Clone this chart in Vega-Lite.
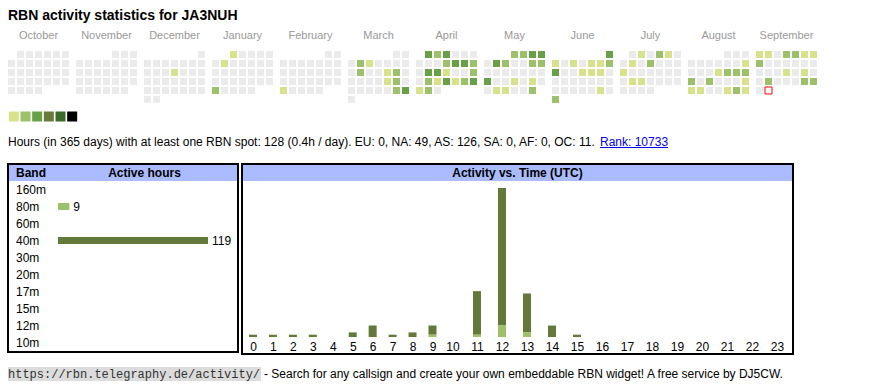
{
  "$schema": "https://vega.github.io/schema/vega-lite/v6.json",
  "background": "white",
  "padding": {"left": 7, "top": 9, "right": 0, "bottom": 0},
  "config": {"font": "Liberation Sans", "view": {"stroke": null}},
  "spacing": 0,
  "resolve": {"scale": {"color": "independent", "x": "independent", "y": "independent"}},
  "vconcat": [
    {
      "title": {"text": "RBN activity statistics for JA3NUH", "anchor": "start", "fontSize": 14, "fontWeight": "bold", "color": "#000000", "offset": 7, "font": "Liberation Sans"},
      "data": {"values": [
{"m":"October","w":0,"d":1,"v":0},{"m":"October","w":0,"d":2,"v":0},{"m":"October","w":0,"d":3,"v":0},{"m":"October","w":0,"d":4,"v":0},{"m":"October","w":0,"d":5,"v":0},{"m":"October","w":0,"d":6,"v":0},
{"m":"October","w":1,"d":0,"v":0},{"m":"October","w":1,"d":1,"v":0},{"m":"October","w":1,"d":2,"v":0},{"m":"October","w":1,"d":3,"v":0},{"m":"October","w":1,"d":4,"v":0},{"m":"October","w":1,"d":5,"v":0},{"m":"October","w":1,"d":6,"v":0},
{"m":"October","w":2,"d":0,"v":0},{"m":"October","w":2,"d":1,"v":0},{"m":"October","w":2,"d":2,"v":0},{"m":"October","w":2,"d":3,"v":0},{"m":"October","w":2,"d":4,"v":0},{"m":"October","w":2,"d":5,"v":0},{"m":"October","w":2,"d":6,"v":0},
{"m":"October","w":3,"d":0,"v":0},{"m":"October","w":3,"d":1,"v":0},{"m":"October","w":3,"d":2,"v":0},{"m":"October","w":3,"d":3,"v":0},{"m":"October","w":3,"d":4,"v":0},{"m":"October","w":3,"d":5,"v":0},{"m":"October","w":3,"d":6,"v":0},
{"m":"October","w":4,"d":0,"v":0},{"m":"October","w":4,"d":1,"v":0},{"m":"October","w":4,"d":2,"v":0},{"m":"October","w":4,"d":3,"v":0},
{"m":"November","w":0,"d":4,"v":0},{"m":"November","w":0,"d":5,"v":0},{"m":"November","w":0,"d":6,"v":0},
{"m":"November","w":1,"d":0,"v":0},{"m":"November","w":1,"d":1,"v":0},{"m":"November","w":1,"d":2,"v":0},{"m":"November","w":1,"d":3,"v":0},{"m":"November","w":1,"d":4,"v":0},{"m":"November","w":1,"d":5,"v":0},{"m":"November","w":1,"d":6,"v":0},
{"m":"November","w":2,"d":0,"v":0},{"m":"November","w":2,"d":1,"v":0},{"m":"November","w":2,"d":2,"v":0},{"m":"November","w":2,"d":3,"v":0},{"m":"November","w":2,"d":4,"v":0},{"m":"November","w":2,"d":5,"v":0},{"m":"November","w":2,"d":6,"v":0},
{"m":"November","w":3,"d":0,"v":0},{"m":"November","w":3,"d":1,"v":0},{"m":"November","w":3,"d":2,"v":0},{"m":"November","w":3,"d":3,"v":0},{"m":"November","w":3,"d":4,"v":0},{"m":"November","w":3,"d":5,"v":0},{"m":"November","w":3,"d":6,"v":0},
{"m":"November","w":4,"d":0,"v":0},{"m":"November","w":4,"d":1,"v":0},{"m":"November","w":4,"d":2,"v":0},{"m":"November","w":4,"d":3,"v":0},{"m":"November","w":4,"d":4,"v":0},{"m":"November","w":4,"d":5,"v":0},
{"m":"December","w":0,"d":6,"v":0},
{"m":"December","w":1,"d":0,"v":0},{"m":"December","w":1,"d":1,"v":0},{"m":"December","w":1,"d":2,"v":0},{"m":"December","w":1,"d":3,"v":0},{"m":"December","w":1,"d":4,"v":0},{"m":"December","w":1,"d":5,"v":0},{"m":"December","w":1,"d":6,"v":0},
{"m":"December","w":2,"d":0,"v":0},{"m":"December","w":2,"d":1,"v":0},{"m":"December","w":2,"d":2,"v":0},{"m":"December","w":2,"d":3,"v":1},{"m":"December","w":2,"d":4,"v":0},{"m":"December","w":2,"d":5,"v":0},{"m":"December","w":2,"d":6,"v":0},
{"m":"December","w":3,"d":0,"v":0},{"m":"December","w":3,"d":1,"v":0},{"m":"December","w":3,"d":2,"v":0},{"m":"December","w":3,"d":3,"v":0},{"m":"December","w":3,"d":4,"v":0},{"m":"December","w":3,"d":5,"v":0},{"m":"December","w":3,"d":6,"v":0},
{"m":"December","w":4,"d":0,"v":0},{"m":"December","w":4,"d":1,"v":0},{"m":"December","w":4,"d":2,"v":0},{"m":"December","w":4,"d":3,"v":0},{"m":"December","w":4,"d":4,"v":0},{"m":"December","w":4,"d":5,"v":0},{"m":"December","w":4,"d":6,"v":0},
{"m":"December","w":5,"d":0,"v":0},{"m":"December","w":5,"d":1,"v":0},
{"m":"January","w":0,"d":2,"v":1},{"m":"January","w":0,"d":3,"v":0},{"m":"January","w":0,"d":4,"v":0},{"m":"January","w":0,"d":5,"v":0},{"m":"January","w":0,"d":6,"v":0},
{"m":"January","w":1,"d":0,"v":0},{"m":"January","w":1,"d":1,"v":1},{"m":"January","w":1,"d":2,"v":0},{"m":"January","w":1,"d":3,"v":0},{"m":"January","w":1,"d":4,"v":0},{"m":"January","w":1,"d":5,"v":0},{"m":"January","w":1,"d":6,"v":0},
{"m":"January","w":2,"d":0,"v":0},{"m":"January","w":2,"d":1,"v":0},{"m":"January","w":2,"d":2,"v":0},{"m":"January","w":2,"d":3,"v":0},{"m":"January","w":2,"d":4,"v":0},{"m":"January","w":2,"d":5,"v":0},{"m":"January","w":2,"d":6,"v":0},
{"m":"January","w":3,"d":0,"v":0},{"m":"January","w":3,"d":1,"v":0},{"m":"January","w":3,"d":2,"v":0},{"m":"January","w":3,"d":3,"v":0},{"m":"January","w":3,"d":4,"v":0},{"m":"January","w":3,"d":5,"v":0},{"m":"January","w":3,"d":6,"v":0},
{"m":"January","w":4,"d":0,"v":2},{"m":"January","w":4,"d":1,"v":0},{"m":"January","w":4,"d":2,"v":0},{"m":"January","w":4,"d":3,"v":0},{"m":"January","w":4,"d":4,"v":0},
{"m":"February","w":0,"d":5,"v":0},{"m":"February","w":0,"d":6,"v":0},
{"m":"February","w":1,"d":0,"v":0},{"m":"February","w":1,"d":1,"v":0},{"m":"February","w":1,"d":2,"v":0},{"m":"February","w":1,"d":3,"v":0},{"m":"February","w":1,"d":4,"v":0},{"m":"February","w":1,"d":5,"v":0},{"m":"February","w":1,"d":6,"v":0},
{"m":"February","w":2,"d":0,"v":0},{"m":"February","w":2,"d":1,"v":0},{"m":"February","w":2,"d":2,"v":0},{"m":"February","w":2,"d":3,"v":0},{"m":"February","w":2,"d":4,"v":0},{"m":"February","w":2,"d":5,"v":0},{"m":"February","w":2,"d":6,"v":0},
{"m":"February","w":3,"d":0,"v":0},{"m":"February","w":3,"d":1,"v":0},{"m":"February","w":3,"d":2,"v":0},{"m":"February","w":3,"d":3,"v":0},{"m":"February","w":3,"d":4,"v":0},{"m":"February","w":3,"d":5,"v":0},{"m":"February","w":3,"d":6,"v":0},
{"m":"February","w":4,"d":0,"v":1},{"m":"February","w":4,"d":1,"v":0},{"m":"February","w":4,"d":2,"v":0},{"m":"February","w":4,"d":3,"v":0},{"m":"February","w":4,"d":4,"v":0},
{"m":"March","w":0,"d":5,"v":0},{"m":"March","w":0,"d":6,"v":0},
{"m":"March","w":1,"d":0,"v":0},{"m":"March","w":1,"d":1,"v":2},{"m":"March","w":1,"d":2,"v":1},{"m":"March","w":1,"d":3,"v":0},{"m":"March","w":1,"d":4,"v":0},{"m":"March","w":1,"d":5,"v":0},{"m":"March","w":1,"d":6,"v":0},
{"m":"March","w":2,"d":0,"v":0},{"m":"March","w":2,"d":1,"v":2},{"m":"March","w":2,"d":2,"v":0},{"m":"March","w":2,"d":3,"v":0},{"m":"March","w":2,"d":4,"v":1},{"m":"March","w":2,"d":5,"v":2},{"m":"March","w":2,"d":6,"v":0},
{"m":"March","w":3,"d":0,"v":0},{"m":"March","w":3,"d":1,"v":0},{"m":"March","w":3,"d":2,"v":0},{"m":"March","w":3,"d":3,"v":0},{"m":"March","w":3,"d":4,"v":1},{"m":"March","w":3,"d":5,"v":2},{"m":"March","w":3,"d":6,"v":0},
{"m":"March","w":4,"d":0,"v":0},{"m":"March","w":4,"d":1,"v":0},{"m":"March","w":4,"d":2,"v":0},{"m":"March","w":4,"d":3,"v":0},{"m":"March","w":4,"d":4,"v":0},{"m":"March","w":4,"d":5,"v":2},{"m":"March","w":4,"d":6,"v":3},
{"m":"March","w":5,"d":0,"v":0},
{"m":"April","w":0,"d":1,"v":3},{"m":"April","w":0,"d":2,"v":2},{"m":"April","w":0,"d":3,"v":3},{"m":"April","w":0,"d":4,"v":0},{"m":"April","w":0,"d":5,"v":0},{"m":"April","w":0,"d":6,"v":0},
{"m":"April","w":1,"d":0,"v":0},{"m":"April","w":1,"d":1,"v":0},{"m":"April","w":1,"d":2,"v":0},{"m":"April","w":1,"d":3,"v":2},{"m":"April","w":1,"d":4,"v":3},{"m":"April","w":1,"d":5,"v":3},{"m":"April","w":1,"d":6,"v":2},
{"m":"April","w":2,"d":0,"v":0},{"m":"April","w":2,"d":1,"v":3},{"m":"April","w":2,"d":2,"v":3},{"m":"April","w":2,"d":3,"v":1},{"m":"April","w":2,"d":4,"v":0},{"m":"April","w":2,"d":5,"v":0},{"m":"April","w":2,"d":6,"v":2},
{"m":"April","w":3,"d":0,"v":0},{"m":"April","w":3,"d":1,"v":2},{"m":"April","w":3,"d":2,"v":1},{"m":"April","w":3,"d":3,"v":3},{"m":"April","w":3,"d":4,"v":1},{"m":"April","w":3,"d":5,"v":2},{"m":"April","w":3,"d":6,"v":3},
{"m":"April","w":4,"d":0,"v":1},{"m":"April","w":4,"d":1,"v":2},{"m":"April","w":4,"d":2,"v":0},
{"m":"May","w":0,"d":3,"v":2},{"m":"May","w":0,"d":4,"v":2},{"m":"May","w":0,"d":5,"v":3},{"m":"May","w":0,"d":6,"v":3},
{"m":"May","w":1,"d":0,"v":0},{"m":"May","w":1,"d":1,"v":3},{"m":"May","w":1,"d":2,"v":2},{"m":"May","w":1,"d":3,"v":0},{"m":"May","w":1,"d":4,"v":0},{"m":"May","w":1,"d":5,"v":2},{"m":"May","w":1,"d":6,"v":2},
{"m":"May","w":2,"d":0,"v":0},{"m":"May","w":2,"d":1,"v":0},{"m":"May","w":2,"d":2,"v":0},{"m":"May","w":2,"d":3,"v":0},{"m":"May","w":2,"d":4,"v":0},{"m":"May","w":2,"d":5,"v":0},{"m":"May","w":2,"d":6,"v":0},
{"m":"May","w":3,"d":0,"v":3},{"m":"May","w":3,"d":1,"v":0},{"m":"May","w":3,"d":2,"v":0},{"m":"May","w":3,"d":3,"v":1},{"m":"May","w":3,"d":4,"v":0},{"m":"May","w":3,"d":5,"v":1},{"m":"May","w":3,"d":6,"v":0},
{"m":"May","w":4,"d":0,"v":0},{"m":"May","w":4,"d":1,"v":1},{"m":"May","w":4,"d":2,"v":1},{"m":"May","w":4,"d":3,"v":0},{"m":"May","w":4,"d":4,"v":0},{"m":"May","w":4,"d":5,"v":2},
{"m":"June","w":0,"d":6,"v":3},
{"m":"June","w":1,"d":0,"v":1},{"m":"June","w":1,"d":1,"v":0},{"m":"June","w":1,"d":2,"v":1},{"m":"June","w":1,"d":3,"v":0},{"m":"June","w":1,"d":4,"v":1},{"m":"June","w":1,"d":5,"v":1},{"m":"June","w":1,"d":6,"v":2},
{"m":"June","w":2,"d":0,"v":3},{"m":"June","w":2,"d":1,"v":0},{"m":"June","w":2,"d":2,"v":0},{"m":"June","w":2,"d":3,"v":1},{"m":"June","w":2,"d":4,"v":1},{"m":"June","w":2,"d":5,"v":1},{"m":"June","w":2,"d":6,"v":0},
{"m":"June","w":3,"d":0,"v":0},{"m":"June","w":3,"d":1,"v":0},{"m":"June","w":3,"d":2,"v":0},{"m":"June","w":3,"d":3,"v":0},{"m":"June","w":3,"d":4,"v":0},{"m":"June","w":3,"d":5,"v":0},{"m":"June","w":3,"d":6,"v":0},
{"m":"June","w":4,"d":0,"v":0},{"m":"June","w":4,"d":1,"v":0},{"m":"June","w":4,"d":2,"v":0},{"m":"June","w":4,"d":3,"v":0},{"m":"June","w":4,"d":4,"v":0},{"m":"June","w":4,"d":5,"v":1},{"m":"June","w":4,"d":6,"v":0},
{"m":"June","w":5,"d":0,"v":2},
{"m":"July","w":0,"d":1,"v":0},{"m":"July","w":0,"d":2,"v":1},{"m":"July","w":0,"d":3,"v":0},{"m":"July","w":0,"d":4,"v":2},{"m":"July","w":0,"d":5,"v":1},{"m":"July","w":0,"d":6,"v":0},
{"m":"July","w":1,"d":0,"v":0},{"m":"July","w":1,"d":1,"v":1},{"m":"July","w":1,"d":2,"v":0},{"m":"July","w":1,"d":3,"v":2},{"m":"July","w":1,"d":4,"v":0},{"m":"July","w":1,"d":5,"v":0},{"m":"July","w":1,"d":6,"v":0},
{"m":"July","w":2,"d":0,"v":1},{"m":"July","w":2,"d":1,"v":0},{"m":"July","w":2,"d":2,"v":0},{"m":"July","w":2,"d":3,"v":0},{"m":"July","w":2,"d":4,"v":0},{"m":"July","w":2,"d":5,"v":0},{"m":"July","w":2,"d":6,"v":0},
{"m":"July","w":3,"d":0,"v":0},{"m":"July","w":3,"d":1,"v":1},{"m":"July","w":3,"d":2,"v":1},{"m":"July","w":3,"d":3,"v":0},{"m":"July","w":3,"d":4,"v":0},{"m":"July","w":3,"d":5,"v":0},{"m":"July","w":3,"d":6,"v":0},
{"m":"July","w":4,"d":0,"v":0},{"m":"July","w":4,"d":1,"v":0},{"m":"July","w":4,"d":2,"v":0},{"m":"July","w":4,"d":3,"v":0},
{"m":"August","w":0,"d":4,"v":0},{"m":"August","w":0,"d":5,"v":0},{"m":"August","w":0,"d":6,"v":0},
{"m":"August","w":1,"d":0,"v":0},{"m":"August","w":1,"d":1,"v":0},{"m":"August","w":1,"d":2,"v":0},{"m":"August","w":1,"d":3,"v":0},{"m":"August","w":1,"d":4,"v":0},{"m":"August","w":1,"d":5,"v":0},{"m":"August","w":1,"d":6,"v":1},
{"m":"August","w":2,"d":0,"v":0},{"m":"August","w":2,"d":1,"v":0},{"m":"August","w":2,"d":2,"v":0},{"m":"August","w":2,"d":3,"v":1},{"m":"August","w":2,"d":4,"v":2},{"m":"August","w":2,"d":5,"v":2},{"m":"August","w":2,"d":6,"v":2},
{"m":"August","w":3,"d":0,"v":2},{"m":"August","w":3,"d":1,"v":0},{"m":"August","w":3,"d":2,"v":2},{"m":"August","w":3,"d":3,"v":0},{"m":"August","w":3,"d":4,"v":0},{"m":"August","w":3,"d":5,"v":0},{"m":"August","w":3,"d":6,"v":1},
{"m":"August","w":4,"d":0,"v":1},{"m":"August","w":4,"d":1,"v":1},{"m":"August","w":4,"d":2,"v":0},{"m":"August","w":4,"d":3,"v":0},{"m":"August","w":4,"d":4,"v":1},{"m":"August","w":4,"d":5,"v":2},{"m":"August","w":4,"d":6,"v":1},
{"m":"September","w":0,"d":0,"v":1},{"m":"September","w":0,"d":1,"v":1},{"m":"September","w":0,"d":2,"v":0},{"m":"September","w":0,"d":3,"v":2},{"m":"September","w":0,"d":4,"v":2},{"m":"September","w":0,"d":5,"v":1},{"m":"September","w":0,"d":6,"v":1},
{"m":"September","w":1,"d":0,"v":2},{"m":"September","w":1,"d":1,"v":0},{"m":"September","w":1,"d":2,"v":0},{"m":"September","w":1,"d":3,"v":0},{"m":"September","w":1,"d":4,"v":0},{"m":"September","w":1,"d":5,"v":0},{"m":"September","w":1,"d":6,"v":0},
{"m":"September","w":2,"d":0,"v":0},{"m":"September","w":2,"d":1,"v":0},{"m":"September","w":2,"d":2,"v":0},{"m":"September","w":2,"d":3,"v":1},{"m":"September","w":2,"d":4,"v":0},{"m":"September","w":2,"d":5,"v":1},{"m":"September","w":2,"d":6,"v":0},
{"m":"September","w":3,"d":0,"v":0},{"m":"September","w":3,"d":1,"v":2},{"m":"September","w":3,"d":2,"v":0},{"m":"September","w":3,"d":3,"v":0},{"m":"September","w":3,"d":4,"v":0},{"m":"September","w":3,"d":5,"v":2},{"m":"September","w":3,"d":6,"v":2},
{"m":"September","w":4,"d":0,"v":0},{"m":"September","w":4,"d":1,"v":0,"t":1}
      ]},
      "facet": {"column": {"field": "m", "type": "nominal", "sort": ["October","November","December","January","February","March","April","May","June","July","August","September"], "header": {"title": null, "labelFontSize": 11, "labelColor": "#999999", "labelPadding": 10, "labelFont": "Liberation Sans"}}},
      "spacing": 7,
      "spec": {
        "width": 61,
        "height": 52,
        "layer": [
          {
            "mark": "rect",
            "encoding": {
              "x": {"field": "d", "type": "ordinal", "scale": {"domain": [0,1,2,3,4,5,6], "paddingInner": 0.2222, "paddingOuter": 0}, "axis": null},
              "y": {"field": "w", "type": "ordinal", "scale": {"domain": [0,1,2,3,4,5], "paddingInner": 0.2222, "paddingOuter": 0}, "axis": null},
              "color": {"field": "v", "type": "ordinal", "scale": {"domain": [0,1,2,3,4,5,6], "range": ["#ebebeb","#d8e18b","#9dc16b","#67a046","#68793a","#3c6a2a","#000000"]}, "legend": null}
            }
          },
          {
            "transform": [{"filter": "datum.t == 1"}],
            "mark": {"type": "rect", "fill": "#ffffff", "stroke": "#ff0000", "strokeWidth": 1},
            "encoding": {
              "x": {"field": "d", "type": "ordinal"},
              "y": {"field": "w", "type": "ordinal"}
            }
          }
        ]
      }
    },
    {
      "width": 70,
      "height": 27,
      "data": {"values": [{"v":1},{"v":2},{"v":3},{"v":4},{"v":5},{"v":6}]},
      "mark": {"type": "square", "size": 100, "opacity": 1},
      "encoding": {
        "x": {"field": "v", "type": "ordinal", "scale": {"paddingInner": 0.1667, "paddingOuter": 0}, "axis": null},
        "color": {"field": "v", "type": "ordinal", "scale": {"domain": [1,2,3,4,5,6], "range": ["#d8e18b","#9dc16b","#67a046","#68793a","#3c6a2a","#000000"]}, "legend": null}
      }
    },
    {
      "width": 800,
      "height": 33,
      "data": {"values": [{"part": "main", "txt": "Hours (in 365 days) with at least one RBN spot: 128 (0.4h / day). EU: 0, NA: 49, AS: 126, SA: 0, AF: 0, OC: 11."}, {"part": "rank", "txt": "Rank: 10733"}]},
      "layer": [
        {
          "transform": [{"filter": "datum.part == 'main'"}],
          "mark": {"type": "text", "align": "left", "baseline": "alphabetic", "fontSize": 12, "color": "#000000"},
          "encoding": {"x": {"value": 0}, "y": {"value": 16}, "text": {"field": "txt"}}
        },
        {
          "transform": [{"filter": "datum.part == 'rank'"}],
          "mark": {"type": "text", "align": "left", "baseline": "alphabetic", "fontSize": 12, "color": "#0000ee"},
          "encoding": {"x": {"value": 592}, "y": {"value": 16}, "text": {"field": "txt"}}
        },
        {
          "transform": [{"filter": "datum.part == 'rank'"}],
          "mark": {"type": "rule", "color": "#0000ee", "strokeWidth": 1},
          "encoding": {"x": {"value": 592}, "x2": {"value": 660}, "y": {"value": 17.5}}
        }
      ]
    },
    {
      "spacing": 2,
      "resolve": {"scale": {"color": "independent", "x": "independent", "y": "independent"}},
      "hconcat": [
        {
          "width": 230,
          "height": 188,
          "view": {"stroke": "#000000", "strokeWidth": 2},
          "data": {"values": [
            {"band": "160m", "hours": 0},
            {"band": "80m", "hours": 9},
            {"band": "60m", "hours": 0},
            {"band": "40m", "hours": 119},
            {"band": "30m", "hours": 0},
            {"band": "20m", "hours": 0},
            {"band": "17m", "hours": 0},
            {"band": "15m", "hours": 0},
            {"band": "12m", "hours": 0},
            {"band": "10m", "hours": 0}
          ]},
          "layer": [
            {
              "data": {"values": [{"h1": "Band", "h2": "Active hours"}]},
              "mark": {"type": "rect", "color": "#aabbff"},
              "encoding": {"x": {"value": 1}, "x2": {"value": 229}, "y": {"value": 1}, "y2": {"value": 17}}
            },
            {
              "data": {"values": [{"h1": "Band", "h2": "Active hours"}]},
              "mark": {"type": "text", "align": "left", "baseline": "middle", "fontSize": 12, "fontWeight": "bold", "color": "#000000"},
              "encoding": {"x": {"value": 8}, "y": {"value": 9}, "text": {"field": "h1"}}
            },
            {
              "data": {"values": [{"h1": "Band", "h2": "Active hours"}]},
              "mark": {"type": "text", "align": "center", "baseline": "middle", "fontSize": 12, "fontWeight": "bold", "color": "#000000"},
              "encoding": {"x": {"value": 136.5}, "y": {"value": 9}, "text": {"field": "h2"}}
            },
            {
              "mark": {"type": "text", "align": "left", "baseline": "middle", "fontSize": 12, "color": "#000000"},
              "encoding": {
                "x": {"value": 8},
                "y": {"field": "band", "type": "nominal", "scale": {"domain": ["160m","80m","60m","40m","30m","20m","17m","15m","12m","10m"], "range": [17, 187], "paddingInner": 0, "paddingOuter": 0}, "axis": null},
                "text": {"field": "band"}
              }
            },
            {
              "transform": [{"filter": "datum.hours > 0"}],
              "mark": {"type": "bar", "height": 7},
              "encoding": {
                "x": {"field": "hours", "type": "quantitative", "scale": {"domain": [0, 119], "range": [50, 200], "nice": false, "padding": 0}, "axis": null},
                "y": {"field": "band", "type": "nominal"},
                "color": {"field": "band", "type": "nominal", "scale": {"domain": ["80m", "40m"], "range": ["#9dc16b", "#637939"]}, "legend": null}
              }
            },
            {
              "transform": [{"filter": "datum.hours > 0"}],
              "mark": {"type": "text", "align": "left", "baseline": "middle", "dx": 4, "fontSize": 12, "color": "#000000"},
              "encoding": {
                "x": {"field": "hours", "type": "quantitative"},
                "y": {"field": "band", "type": "nominal"},
                "text": {"field": "hours", "type": "quantitative"}
              }
            }
          ]
        },
        {
          "width": 551,
          "height": 190,
          "view": {"stroke": "#000000", "strokeWidth": 2},
          "layer": [
            {
              "data": {"values": [{"title": "Activity vs. Time (UTC)"}]},
              "mark": {"type": "rect", "color": "#aabbff"},
              "encoding": {"x": {"value": 1}, "x2": {"value": 550}, "y": {"value": 1}, "y2": {"value": 17}}
            },
            {
              "data": {"values": [{"title": "Activity vs. Time (UTC)"}]},
              "mark": {"type": "text", "align": "center", "baseline": "middle", "fontSize": 12, "fontWeight": "bold", "color": "#000000"},
              "encoding": {"x": {"value": 275.5}, "y": {"value": 9}, "text": {"field": "title"}}
            },
            {
              "data": {"values": [
                {"h": 0, "band": "40m", "n": 1},
                {"h": 1, "band": "40m", "n": 1},
                {"h": 2, "band": "40m", "n": 1},
                {"h": 3, "band": "40m", "n": 1},
                {"h": 5, "band": "40m", "n": 2},
                {"h": 6, "band": "40m", "n": 5},
                {"h": 7, "band": "40m", "n": 1},
                {"h": 8, "band": "40m", "n": 2},
                {"h": 9, "band": "40m", "n": 4},
                {"h": 9, "band": "80m", "n": 1},
                {"h": 11, "band": "40m", "n": 19},
                {"h": 11, "band": "80m", "n": 1},
                {"h": 12, "band": "40m", "n": 60},
                {"h": 12, "band": "80m", "n": 5},
                {"h": 13, "band": "40m", "n": 17},
                {"h": 13, "band": "80m", "n": 2},
                {"h": 14, "band": "40m", "n": 5},
                {"h": 15, "band": "40m", "n": 1}
              ]},
              "mark": {"type": "bar", "width": 8},
              "encoding": {
                "x": {"field": "h", "type": "quantitative", "scale": {"type": "linear", "domain": [0, 9, 10, 11, 23], "range": [11, 190.5, 210.5, 235, 535], "nice": false, "zero": false, "padding": 0},
                  "axis": {"values": [0,1,2,3,4,5,6,7,8,9,10,11,12,13,14,15,16,17,18,19,20,21,22,23], "format": "d", "title": null, "domain": false, "ticks": false, "tickSize": 0, "grid": false, "labelFontSize": 12, "labelColor": "#000000", "labelFont": "Liberation Sans", "labelBaseline": "alphabetic", "labelPadding": 0, "offset": -4, "labelFlush": false, "labelOverlap": false}},
                "y": {"field": "n", "type": "quantitative", "stack": "zero", "scale": {"domain": [0, 65], "range": [173, 24], "nice": false, "padding": 0}, "axis": null},
                "color": {"field": "band", "type": "nominal", "scale": {"domain": ["80m", "40m"], "range": ["#9dc16b", "#637939"]}, "legend": null},
                "order": {"field": "band", "sort": "descending"}
              }
            }
          ]
        }
      ]
    },
    {
      "width": 800,
      "height": 30,
      "data": {"values": [{"url": "https://rbn.telegraphy.de/activity/", "rest": "- Search for any callsign and create your own embeddable RBN widget! A free service by DJ5CW."}]},
      "layer": [
        {
          "mark": {"type": "rect", "color": "#dcdcdc"},
          "encoding": {"x": {"value": 0}, "x2": {"value": 253}, "y": {"value": 12}, "y2": {"value": 26}}
        },
        {
          "mark": {"type": "text", "align": "left", "baseline": "alphabetic", "fontSize": 12, "font": "Liberation Mono", "color": "#333333"},
          "encoding": {"x": {"value": 0}, "y": {"value": 23}, "text": {"field": "url"}}
        },
        {
          "mark": {"type": "text", "align": "left", "baseline": "alphabetic", "fontSize": 12, "color": "#000000"},
          "encoding": {"x": {"value": 256}, "y": {"value": 23}, "text": {"field": "rest"}}
        }
      ]
    }
  ]
}
